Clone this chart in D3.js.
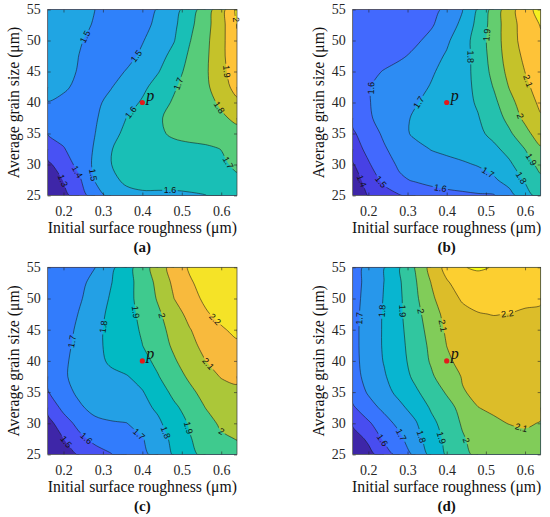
<!DOCTYPE html>
<html><head><meta charset="utf-8">
<script src="https://cdn.jsdelivr.net/npm/d3@7"></script>
<style>body{margin:0;background:#fff}</style>
</head><body>
<svg id="chart" width="550" height="517"></svg>
<script>
// ---------------- data ----------------
const xValues = [0.16,0.20,0.24,0.28,0.32,0.36,0.40,0.44,0.48,0.52,0.56,0.60,0.64];
const yValues = [55,52.5,50,47.5,45,42.5,40,37.5,35,32.5,30,27.5,25];
const xTicks = [0.2,0.3,0.4,0.5,0.6];
const yTicks = [25,30,35,40,45,50,55];
const panelNames = ["(a)","(b)","(c)","(d)"];
const pointP = [0.4, 40];

const zA = [
[1.56,1.54,1.52,1.50,1.47,1.455,1.47,1.505,1.565,1.645,1.755,1.855,2.02],
[1.555,1.535,1.515,1.495,1.47,1.455,1.475,1.52,1.58,1.675,1.765,1.865,2.003],
[1.55,1.53,1.505,1.485,1.465,1.46,1.495,1.54,1.595,1.695,1.775,1.87,1.99],
[1.545,1.525,1.499,1.48,1.46,1.475,1.515,1.565,1.63,1.715,1.78,1.875,1.975],
[1.54,1.52,1.495,1.475,1.47,1.505,1.55,1.595,1.66,1.73,1.785,1.87,1.955],
[1.53,1.51,1.485,1.475,1.495,1.54,1.58,1.635,1.69,1.74,1.78,1.855,1.935],
[1.497,1.485,1.47,1.48,1.525,1.565,1.61,1.665,1.71,1.74,1.77,1.815,1.88],
[1.45,1.455,1.465,1.49,1.545,1.601,1.64,1.69,1.725,1.745,1.76,1.785,1.82],
[1.405,1.425,1.45,1.499,1.565,1.625,1.66,1.69,1.71,1.72,1.725,1.745,1.77],
[1.35,1.395,1.44,1.51,1.595,1.64,1.66,1.675,1.68,1.685,1.69,1.701,1.725],
[1.28,1.35,1.43,1.52,1.598,1.635,1.65,1.655,1.655,1.66,1.67,1.69,1.71],
[1.22,1.305,1.385,1.507,1.575,1.62,1.63,1.63,1.63,1.635,1.645,1.665,1.69],
[1.17,1.27,1.35,1.45,1.53,1.57,1.585,1.585,1.585,1.59,1.598,1.625,1.655]];

const zB = [
[1.53,1.54,1.55,1.56,1.57,1.585,1.61,1.695,1.81,1.935,2.06,2.155,2.24],
[1.53,1.54,1.55,1.56,1.575,1.59,1.645,1.725,1.83,1.945,2.06,2.14,2.205],
[1.535,1.545,1.555,1.565,1.585,1.625,1.685,1.755,1.845,1.95,2.055,2.14,2.185],
[1.54,1.55,1.565,1.585,1.62,1.665,1.71,1.76,1.835,1.945,2.045,2.12,2.17],
[1.555,1.575,1.605,1.635,1.665,1.69,1.725,1.765,1.83,1.93,2.03,2.101,2.16],
[1.565,1.595,1.625,1.65,1.675,1.705,1.735,1.77,1.82,1.905,2.005,2.08,2.14],
[1.565,1.595,1.63,1.665,1.695,1.72,1.745,1.77,1.81,1.875,1.97,2.05,2.12],
[1.525,1.585,1.64,1.68,1.71,1.73,1.745,1.765,1.795,1.85,1.93,2.025,2.09],
[1.485,1.555,1.615,1.675,1.715,1.73,1.74,1.755,1.78,1.825,1.885,1.965,2.06],
[1.455,1.525,1.59,1.64,1.675,1.703,1.715,1.73,1.755,1.78,1.83,1.901,1.985],
[1.39,1.49,1.56,1.615,1.645,1.665,1.68,1.69,1.705,1.74,1.785,1.855,1.93],
[1.35,1.44,1.525,1.585,1.61,1.63,1.645,1.655,1.665,1.685,1.74,1.81,1.88],
[1.31,1.405,1.455,1.495,1.53,1.555,1.57,1.58,1.59,1.593,1.665,1.76,1.84]];

const zC = [
[1.64,1.66,1.68,1.699,1.775,1.86,1.95,2.05,2.14,2.21,2.24,2.26,2.27],
[1.635,1.655,1.68,1.725,1.795,1.865,1.94,2.025,2.12,2.19,2.23,2.25,2.26],
[1.63,1.65,1.69,1.74,1.81,1.87,1.935,2.01,2.099,2.17,2.215,2.24,2.25],
[1.625,1.65,1.705,1.765,1.82,1.87,1.92,1.985,2.055,2.13,2.19,2.225,2.24],
[1.62,1.66,1.72,1.775,1.825,1.865,1.91,1.97,2.03,2.095,2.15,2.19,2.22],
[1.62,1.67,1.73,1.78,1.82,1.855,1.899,1.955,2.015,2.075,2.125,2.16,2.185],
[1.615,1.68,1.74,1.78,1.81,1.84,1.87,1.925,1.99,2.045,2.099,2.135,2.16],
[1.62,1.685,1.74,1.77,1.785,1.795,1.83,1.895,1.96,2.015,2.065,2.105,2.12],
[1.595,1.665,1.72,1.75,1.765,1.775,1.795,1.85,1.925,1.98,2.03,2.065,2.08],
[1.53,1.625,1.685,1.73,1.75,1.76,1.775,1.815,1.88,1.94,2.001,2.04,2.055],
[1.465,1.555,1.63,1.675,1.69,1.698,1.74,1.785,1.845,1.91,1.965,2.015,2.035],
[1.41,1.499,1.575,1.625,1.65,1.67,1.695,1.755,1.825,1.893,1.945,1.985,2.003],
[1.36,1.45,1.51,1.56,1.595,1.64,1.68,1.73,1.81,1.875,1.925,1.955,1.97]];

const zD = [
[1.66,1.725,1.795,1.895,2.005,2.13,2.23,2.295,2.312,2.295,2.282,2.27,2.26],
[1.66,1.73,1.801,1.89,1.99,2.101,2.19,2.24,2.26,2.26,2.255,2.25,2.245],
[1.665,1.735,1.805,1.885,1.98,2.08,2.16,2.21,2.235,2.24,2.24,2.225,2.215],
[1.67,1.74,1.81,1.885,1.965,2.055,2.13,2.175,2.195,2.203,2.198,2.185,2.18],
[1.67,1.745,1.81,1.88,1.955,2.035,2.115,2.15,2.165,2.17,2.165,2.16,2.155],
[1.67,1.745,1.81,1.875,1.945,2.02,2.101,2.135,2.145,2.15,2.15,2.145,2.14],
[1.67,1.74,1.805,1.87,1.935,2.01,2.085,2.125,2.135,2.14,2.14,2.135,2.13],
[1.665,1.73,1.79,1.855,1.92,1.985,2.055,2.105,2.12,2.125,2.125,2.125,2.12],
[1.64,1.71,1.77,1.825,1.885,1.945,2.01,2.095,2.115,2.115,2.115,2.115,2.115],
[1.585,1.665,1.72,1.78,1.835,1.91,1.965,2.03,2.099,2.11,2.11,2.11,2.11],
[1.515,1.585,1.665,1.725,1.79,1.875,1.94,2.01,2.06,2.09,2.102,2.105,2.098],
[1.445,1.52,1.615,1.68,1.765,1.845,1.925,1.99,2.035,2.06,2.075,2.09,2.08],
[1.38,1.465,1.55,1.635,1.72,1.825,1.91,1.975,2.02,2.04,2.055,2.06,2.06]];

const levelsA = [1.3,1.4,1.5,1.6,1.7,1.8,1.9,2.0];
const levelsB = [1.4,1.5,1.6,1.7,1.8,1.9,2.0,2.1,2.2];
const levelsC = [1.5,1.6,1.7,1.8,1.9,2.0,2.1,2.2];
const levelsD = [1.5,1.6,1.7,1.8,1.9,2.0,2.1,2.2,2.3];

// contour label anchors: [level, x, y]
const labelsA = [[1.5,0.255,50.6],[1.5,0.386,47.4],[1.6,0.373,38.3],[1.7,0.487,43.1],[1.8,0.597,39.3],
  [1.9,0.614,45.0],[2.0,0.631,53.3],[1.7,0.614,30.2],[1.6,0.47,25.6],[1.5,0.272,28.3],[1.4,0.229,28.6],[1.3,0.191,27.2]];
const labelsB = [[1.6,0.209,42.3],[1.7,0.327,40.1],[1.8,0.464,47.4],[1.9,0.502,50.9],[2.1,0.604,43.4],
  [2.0,0.583,37.7],[1.9,0.613,30.7],[1.8,0.591,27.9],[1.7,0.506,28.8],[1.6,0.383,26.0],[1.5,0.23,27.1],[1.4,0.174,27.1]];
const labelsC = [[1.7,0.223,43.1],[1.8,0.299,45.5],[1.9,0.381,47.8],[2.0,0.445,47.2],[2.2,0.58,46.4],
  [2.1,0.559,39.1],[2.0,0.593,27.9],[1.9,0.517,29.3],[1.8,0.466,28.7],[1.7,0.398,28.7],[1.6,0.255,27.4],[1.5,0.204,26.9]];
const labelsD = [[1.7,0.177,46.8],[1.8,0.234,48],[1.9,0.288,48],[2.0,0.335,48],[2.1,0.387,45.6],
  [2.2,0.555,47.6],[2.1,0.587,28.5],[1.6,0.234,27.2],[1.7,0.285,28.2],[1.8,0.336,27.9],[1.9,0.387,27.7],[2.0,0.447,27.2]];

// ---------------- colormap (parula, 64) ----------------
const parulaRGB = [
[0.2422,0.1504,0.6603],[0.2503,0.1650,0.7076],[0.2578,0.1818,0.7511],[0.2647,0.1978,0.7952],
[0.2706,0.2147,0.8364],[0.2751,0.2342,0.8710],[0.2783,0.2559,0.8991],[0.2803,0.2782,0.9221],
[0.2813,0.3006,0.9414],[0.2810,0.3228,0.9579],[0.2795,0.3447,0.9717],[0.2760,0.3667,0.9829],
[0.2699,0.3892,0.9906],[0.2602,0.4123,0.9952],[0.2440,0.4358,0.9988],[0.2206,0.4603,0.9973],
[0.1963,0.4847,0.9892],[0.1834,0.5074,0.9798],[0.1786,0.5289,0.9682],[0.1764,0.5499,0.9520],
[0.1687,0.5703,0.9359],[0.1540,0.5902,0.9218],[0.1460,0.6091,0.9079],[0.1380,0.6276,0.8973],
[0.1248,0.6459,0.8883],[0.1113,0.6635,0.8763],[0.0952,0.6798,0.8598],[0.0689,0.6948,0.8394],
[0.0297,0.7082,0.8163],[0.0036,0.7203,0.7917],[0.0067,0.7312,0.7660],[0.0433,0.7411,0.7394],
[0.0964,0.7500,0.7120],[0.1408,0.7584,0.6842],[0.1717,0.7670,0.6554],[0.1938,0.7758,0.6251],
[0.2161,0.7843,0.5923],[0.2470,0.7918,0.5567],[0.2906,0.7973,0.5188],[0.3406,0.8008,0.4789],
[0.3909,0.8029,0.4354],[0.4456,0.8024,0.3909],[0.5044,0.7993,0.3480],[0.5616,0.7942,0.3045],
[0.6174,0.7876,0.2612],[0.6720,0.7793,0.2227],[0.7242,0.7698,0.1910],[0.7738,0.7598,0.1646],
[0.8203,0.7498,0.1535],[0.8634,0.7406,0.1596],[0.9035,0.7330,0.1774],[0.9393,0.7288,0.2100],
[0.9728,0.7298,0.2394],[0.9956,0.7434,0.2371],[0.9970,0.7659,0.2199],[0.9952,0.7893,0.2028],
[0.9892,0.8136,0.1885],[0.9786,0.8386,0.1766],[0.9676,0.8639,0.1643],[0.9610,0.8890,0.1537],
[0.9597,0.9135,0.1423],[0.9628,0.9373,0.1265],[0.9691,0.9606,0.1064],[0.9769,0.9839,0.0805]];
const parulaColors = parulaRGB.map(([r,g,b]) => d3.rgb(r*255,g*255,b*255).formatHex());
function parula(t){ t = Math.max(0, Math.min(1, t)); return parulaColors[Math.min(63, Math.floor(t*64))]; }

// ---------------- layout ----------------
const boxes = [
  {x:47.7, y:9.5, w:189.3, h:186},
  {x:352.7, y:9.5, w:188, h:186},
  {x:47.7, y:267.3, w:189.3, h:187.2},
  {x:352.7, y:267.3, w:188, h:187.2}];
const panels = [
  {z:zA, levels:levelsA, labels:labelsA},
  {z:zB, levels:levelsB, labels:labelsB},
  {z:zC, levels:levelsC, labels:labelsC},
  {z:zD, levels:levelsD, labels:labelsD}];

const svg = d3.select("#chart");
const defs = svg.append("defs");
const serif = "'Liberation Serif','Times New Roman',serif";
const sans = "'Liberation Sans',Arial,sans-serif";

// context wrapper: first moveTo of a sub-curve becomes lineTo (continuity)
function joinCtx(p) {
  return {
    moveTo: (x, y) => p.lineTo(x, y),
    lineTo: (x, y) => p.lineTo(x, y),
    bezierCurveTo: (a, b, c, d, e, f) => p.bezierCurveTo(a, b, c, d, e, f),
    closePath: () => p.closePath()
  };
}
function drawCurve(factory, ctx, pts) {
  const c = factory(ctx);
  c.lineStart();
  pts.forEach(q => c.point(q[0], q[1]));
  c.lineEnd();
}

panels.forEach((P, idx) => {
  const box = boxes[idx];
  const id = "p" + idx;
  const x = d3.scaleLinear().domain([0.16, 0.64]).range([0, box.w]);
  const y = d3.scaleLinear().domain([25, 55]).range([box.h, 0]);
  const g = svg.append("g").attr("transform", `translate(${box.x},${box.y})`);
  const nx = xValues.length, ny = yValues.length;
  const gx2x = d3.scaleLinear().domain([0.5, nx - 0.5]).range([xValues[0], xValues[nx - 1]]).clamp(true);
  const gy2y = d3.scaleLinear().domain([0.5, ny - 0.5]).range([yValues[0], yValues[ny - 1]]).clamp(true);
  const flat = P.z.flat();
  const zmin = d3.min(flat), zmax = d3.max(flat);
  const colorOf = v => parula((v - zmin) / (zmax - zmin));
  const contours = d3.contours().size([nx, ny]).thresholds(P.levels)(flat);
  const toPx = q => [x(gx2x(q[0])), y(gy2y(q[1]))];
  const isBorder = q => q[0] <= 1e-9 || q[0] >= nx - 1e-9 || q[1] <= 1e-9 || q[1] >= ny - 1e-9;
  const cr = d3.curveCatmullRom.alpha(0.5);
  const crc = d3.curveCatmullRomClosed.alpha(0.5);

  // build fill path and stroke path for each level
  contours.forEach(c => {
    const fill = d3.path(), stroke = d3.path();
    c.rings = [];
    c.coordinates.forEach(poly => poly.forEach(ring => {
      const raw = ring.slice(0, -1);
      const pts = raw.map(toPx), flags = raw.map(isBorder);
      c.rings.push({pts: ring.map(toPx), flags: ring.map(isBorder)});
      const n = pts.length;
      const s = flags.indexOf(true);
      if (s < 0) {
        fill.moveTo(pts[0][0], pts[0][1]);
        drawCurve(crc, joinCtx(fill), pts);
        stroke.moveTo(pts[0][0], pts[0][1]);
        drawCurve(crc, joinCtx(stroke), pts);
        return;
      }
      const P2 = pts.slice(s).concat(pts.slice(0, s));
      const F2 = flags.slice(s).concat(flags.slice(0, s));
      fill.moveTo(P2[0][0], P2[0][1]);
      let i = 1;
      while (i <= n) {
        const k = i % n;
        if (F2[k]) { fill.lineTo(P2[k][0], P2[k][1]); i++; continue; }
        const run = [P2[i - 1]];
        while (!F2[i % n]) { run.push(P2[i % n]); i++; }
        run.push(P2[i % n]);
        drawCurve(cr, joinCtx(fill), run);
        stroke.moveTo(run[0][0], run[0][1]);
        drawCurve(cr, joinCtx(stroke), run);
        i++;
      }
      fill.closePath();
    }));
    c.fillD = fill.toString();
    c.strokeD = stroke.toString();
  });

  defs.append("clipPath").attr("id", "clip-" + id)
    .append("rect").attr("width", box.w).attr("height", box.h);
  const mask = defs.append("mask").attr("id", "mask-" + id)
    .attr("maskUnits", "userSpaceOnUse").attr("x", -10).attr("y", -10)
    .attr("width", box.w + 20).attr("height", box.h + 20);
  mask.append("rect").attr("x", -10).attr("y", -10).attr("width", box.w + 20)
    .attr("height", box.h + 20).attr("fill", "#fff");

  const plot = g.append("g").attr("clip-path", `url(#clip-${id})`);
  plot.append("rect").attr("width", box.w).attr("height", box.h).attr("fill", colorOf(zmin));
  plot.selectAll("path.band").data(contours).join("path").attr("class", "band")
    .attr("d", d => d.fillD).attr("fill", d => colorOf(d.value)).attr("fill-rule", "evenodd");
  plot.append("g").attr("mask", `url(#mask-${id})`)
    .selectAll("path").data(contours).join("path")
    .attr("d", d => d.strokeD).attr("fill", "none").attr("stroke", "#151515")
    .attr("stroke-width", 0.6).attr("stroke-opacity", 0.9);

  // contour labels placed on nearest point of the level's line
  const fmt = d3.format("~g");
  P.labels.forEach(([lv, lx, ly]) => {
    const c = contours.find(c => Math.abs(c.value - lv) < 1e-9);
    if (!c) return;
    const tx = x(lx), ty = y(ly);
    let best = null;
    c.rings.forEach(({pts, flags}) => {
      for (let i = 0; i < pts.length - 1; i++) {
        if (flags[i] && flags[i + 1]) continue;
        const [ax, ay] = pts[i], [bx, by] = pts[i + 1];
        const dx = bx - ax, dy = by - ay, L2 = dx * dx + dy * dy;
        if (!L2) continue;
        let t = ((tx - ax) * dx + (ty - ay) * dy) / L2;
        t = Math.max(0, Math.min(1, t));
        const px = ax + t * dx, py = ay + t * dy;
        const d = (px - tx) ** 2 + (py - ty) ** 2;
        if (!best || d < best.d) best = {d, px, py, ang: Math.atan2(dy, dx) * 180 / Math.PI};
      }
    });
    if (!best) return;
    let a = best.ang;
    if (a > 90) a -= 180;
    if (a < -90) a += 180;
    const tr = `translate(${best.px},${best.py}) rotate(${a})`;
    const t = g.append("text").attr("transform", tr)
      .attr("text-anchor", "middle").attr("dy", "0.35em")
      .attr("font-family", sans).attr("font-size", 9).attr("fill", "#111")
      .text(fmt(lv));
    const wT = t.node().getComputedTextLength();
    mask.append("rect").attr("transform", tr)
      .attr("x", -wT / 2 - 1.5).attr("y", -4.5).attr("width", wT + 3).attr("height", 9)
      .attr("fill", "#000");
  });

  // point p
  g.append("circle").attr("cx", x(pointP[0])).attr("cy", y(pointP[1])).attr("r", 2.6).attr("fill", "#e31a1c");
  g.append("text").attr("x", x(pointP[0]) + 4).attr("y", y(pointP[1]) - 2)
    .attr("font-family", serif).attr("font-style", "italic").attr("font-size", 16)
    .attr("fill", "#111").text("p");

  // axes
  const styleAxis = sel => {
    sel.select(".domain").remove();
    sel.selectAll(".tick line").attr("stroke", "#262626").attr("stroke-width", 0.6);
    sel.selectAll(".tick text").attr("font-family", serif).attr("font-size", 14).attr("fill", "#262626");
  };
  g.append("g").attr("transform", `translate(0,${box.h})`)
    .call(d3.axisBottom(x).tickValues(xTicks).tickSize(-3).tickPadding(10.5).tickFormat(d3.format(".1f")))
    .call(styleAxis);
  g.append("g")
    .call(d3.axisTop(x).tickValues(xTicks).tickSize(-3).tickFormat(""))
    .call(styleAxis);
  g.append("g")
    .call(d3.axisLeft(y).tickValues(yTicks).tickSize(-3).tickPadding(7).tickFormat(d3.format("d")))
    .call(styleAxis);
  g.append("g").attr("transform", `translate(${box.w},0)`)
    .call(d3.axisRight(y).tickValues(yTicks).tickSize(-3).tickFormat(""))
    .call(styleAxis);

  g.append("rect").attr("width", box.w).attr("height", box.h)
    .attr("fill", "none").attr("stroke", "#3a3a3a").attr("stroke-width", 0.7);

  g.append("text").attr("x", box.w / 2).attr("y", box.h + 32.5).attr("dy", "0.35em")
    .attr("text-anchor", "middle").attr("font-family", serif).attr("font-size", 15.7)
    .attr("fill", "#111").text("Initial surface roughness (μm)");
  g.append("text").attr("transform", `translate(-34.5,${box.h / 2}) rotate(-90)`)
    .attr("dy", "0.35em").attr("text-anchor", "middle").attr("font-family", serif)
    .attr("font-size", 15.7).attr("fill", "#111").text("Average grain size (μm)");
  g.append("text").attr("x", box.w / 2).attr("y", box.h + 51.5).attr("dy", "0.35em")
    .attr("text-anchor", "middle").attr("font-family", serif).attr("font-size", 15)
    .attr("font-weight", "bold").attr("fill", "#111").text(panelNames[idx]);
});
</script>
</body></html>
